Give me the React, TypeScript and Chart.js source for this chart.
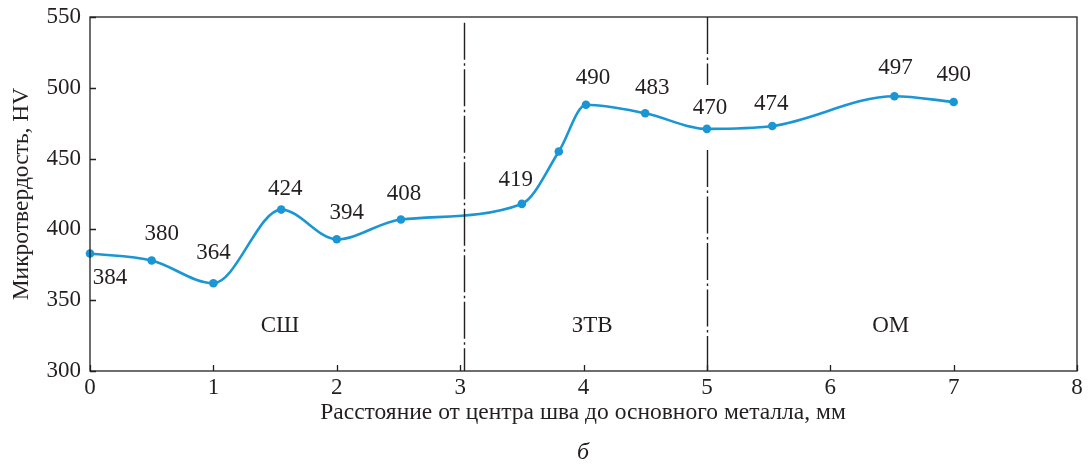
import React, { useEffect, useRef } from "react";
import { Chart, registerables } from "chart.js";

Chart.register(...registerables);

const distanceMm = [0, 0.5, 1, 1.55, 2, 2.52, 3.5, 3.8, 4.02, 4.5, 5.0, 5.53, 6.52, 7.0];
const hardnessHV = [383, 378, 362, 414, 393, 407, 418, 455, 488, 482, 471, 473, 494, 490];
const pointLabels = ["384", "380", "364", "424", "394", "408", "419", "", "490", "483", "470", "474", "497", "490"];
const labelOffsets: [number, number][] = [
  [20, 24], [10, -27], [0, -30], [4, -21], [10, -26], [3, -26], [-6, -24], [0, 0],
  [7, -27], [7, -25], [3, -21], [-1, -22], [1, -28], [0, -27],
];
const zoneBorders = [3.03, 5.0];
// [from HV, to HV] pieces of each border line that are drawn
const zoneBorderSpans: [number, number][][] = [
  [[300, 546]],
  [[300, 456], [502, 550]],
];
const zoneNames = ["СШ", "ЗТВ", "ОМ"];
const zoneCenters = [1.54, 4.07, 6.49];
const zoneLabelHV = 332;
const xTicks = [0, 1, 2, 3, 4, 5, 6, 7, 8];
const yTicks = [300, 350, 400, 450, 500, 550];

const FONT = "'Liberation Serif', 'Times New Roman', serif";
const TEXT = "#231f20";
const LINE = "#1a96d4";

const overlay = {
  id: "overlay",
  afterDraw(chart: any) {
    const { ctx, chartArea: a, scales } = chart;
    const xs = scales.x;
    const ys = scales.y;
    ctx.save();
    ctx.strokeStyle = TEXT;
    ctx.lineWidth = 1.3;
    ctx.strokeRect(a.left, a.top, a.right - a.left, a.bottom - a.top);
    ctx.beginPath();
    xTicks.forEach((v) => {
      const px = Math.round(xs.getPixelForValue(v)) + 0.5;
      ctx.moveTo(px, a.bottom);
      ctx.lineTo(px, a.bottom - 6);
    });
    yTicks.forEach((v) => {
      const py = Math.round(ys.getPixelForValue(v)) + 0.5;
      ctx.moveTo(a.left, py);
      ctx.lineTo(a.left + 6, py);
    });
    ctx.stroke();
    ctx.lineWidth = 1.4;
    zoneBorders.forEach((v, i) => {
      const px = Math.round(xs.getPixelForValue(v)) + 0.5;
      zoneBorderSpans[i].forEach(([lo, hi]) => {
        ctx.setLineDash([37, 3.5, 2.5, 3.5]);
        ctx.beginPath();
        ctx.moveTo(px, ys.getPixelForValue(hi));
        ctx.lineTo(px, ys.getPixelForValue(lo));
        ctx.stroke();
      });
    });
    ctx.setLineDash([]);
    ctx.fillStyle = TEXT;
    ctx.textAlign = "center";
    ctx.textBaseline = "middle";
    ctx.font = `23px ${FONT}`;
    zoneNames.forEach((n, i) => {
      ctx.fillText(n, xs.getPixelForValue(zoneCenters[i]), ys.getPixelForValue(zoneLabelHV));
    });
    ctx.font = `23px ${FONT}`;
    pointLabels.forEach((t, i) => {
      if (!t) return;
      const px = xs.getPixelForValue(distanceMm[i]) + labelOffsets[i][0];
      const py = ys.getPixelForValue(hardnessHV[i]) + labelOffsets[i][1];
      ctx.fillText(t, px, py);
    });
    ctx.font = `23.5px ${FONT}`;
    ctx.fillText("Расстояние от центра шва до основного металла, мм", 583, 413);
    ctx.save();
    ctx.translate(22, (a.top + a.bottom) / 2);
    ctx.rotate(-Math.PI / 2);
    ctx.fillText("Микротвердость, HV", 0, 0);
    ctx.restore();
    ctx.font = `italic 24px ${FONT}`;
    ctx.fillText("б", 583, 453);
    ctx.restore();
  },
};

export default function App() {
  const ref = useRef<HTMLCanvasElement>(null);
  useEffect(() => {
    document.body.style.margin = "0";
    const chart = new Chart(ref.current!, {
      type: "line",
      data: {
        datasets: [
          {
            data: distanceMm.map((x, i) => ({ x, y: hardnessHV[i] })),
            borderColor: LINE,
            backgroundColor: LINE,
            borderWidth: 2.6,
            pointRadius: 4.3,
            pointBorderWidth: 0,
            cubicInterpolationMode: "monotone",
            clip: false as any,
          },
        ],
      },
      options: {
        animation: false,
        responsive: false,
        layout: { padding: { top: 17, right: 11, left: 0, bottom: 0 } },
        plugins: { legend: { display: false }, tooltip: { enabled: false } },
        scales: {
          x: {
            type: "linear",
            min: 0,
            max: 8,
            afterBuildTicks: (s: any) => {
              s.ticks = xTicks.map((v) => ({ value: v }));
            },
            afterFit: (s: any) => {
              s.height = 99;
              s.paddingLeft = 0;
              s.paddingRight = 0;
            },
            grid: { display: false, drawTicks: false },
            border: { display: false },
            ticks: { padding: 3, color: TEXT, font: { family: FONT, size: 23 } },
          },
          y: {
            min: 300,
            max: 550,
            afterBuildTicks: (s: any) => {
              s.ticks = yTicks.map((v) => ({ value: v }));
            },
            afterFit: (s: any) => {
              s.width = 90;
              s.paddingTop = 0;
              s.paddingBottom = 0;
            },
            grid: { display: false, drawTicks: false },
            border: { display: false },
            ticks: { padding: 9, color: TEXT, font: { family: FONT, size: 23 } },
          },
        },
      },
      plugins: [overlay],
    });
    return () => chart.destroy();
  }, []);
  return <canvas ref={ref} width={1088} height={470} style={{ display: "block" }} />;
}
